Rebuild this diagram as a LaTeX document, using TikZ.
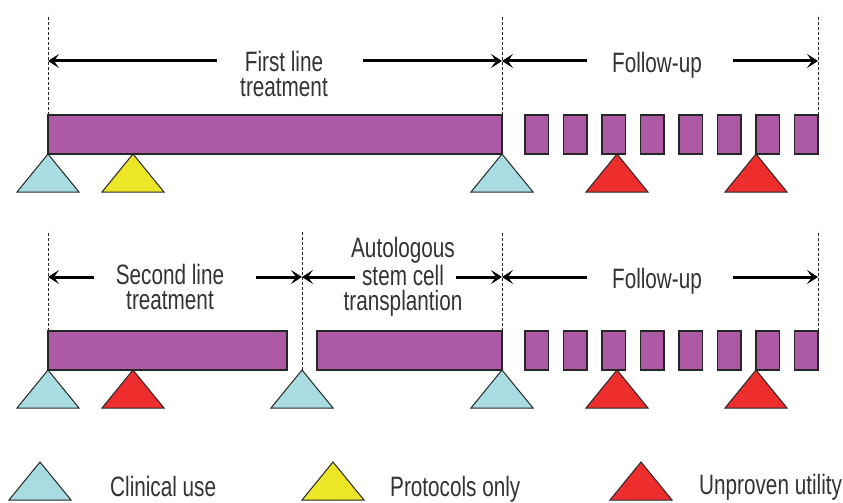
\documentclass[tikz,border=0pt]{standalone}
\usepackage{fontspec}
\newfontfamily\cond[FakeStretch=0.74]{Liberation Sans}
\usetikzlibrary{arrows.meta}
\definecolor{barpurple}{HTML}{AB5AA3}
\definecolor{cblue}{HTML}{A9DCE0}
\definecolor{cyellow}{HTML}{EDE626}
\definecolor{cred}{HTML}{EE2E2D}
\definecolor{txt}{HTML}{333333}
\tikzset{
  bar/.style={draw=black!85, line width=1.4pt, fill=barpurple, inner sep=0pt, outer sep=0pt, anchor=north west, minimum height=39pt},
  tri/.style={draw=black!85, line width=1pt, line join=miter},
  dashline/.style={line width=0.8pt, dash pattern=on 3pt off 2pt, black!85},
  arr/.style={line width=3pt, black, -{Stealth[length=11pt,width=14pt,inset=5pt]}},
  lbl/.style={font=\cond\fontsize{28}{25.5}\selectfont, text=txt, align=center, inner sep=0pt},
}
\newcommand\mytri[3]{\draw[tri, fill=#3] (#1,#2) -- ++(-31,38) -- ++(62,0) -- cycle;}
\begin{document}
\begin{tikzpicture}[x=1pt,y=-1pt]
\useasboundingbox[fill=white] (0,0) rectangle (843,503);

% ---------- Row 1 ----------
\node[bar, minimum width=454pt] (bar1) at (48,115) {};
\foreach \i in {0,...,7}{
  \node[bar, minimum width=23.5pt] (fa\i) at ({525+38.5*\i},115) {};
}
\draw[dashline] (bar1.north west) -- ++(0,-100);
\draw[dashline] (bar1.north east) -- ++(0,-100);
\draw[dashline] (fa7.north east) -- ++(0,-100);

\node[lbl] (t1) at (284,74) {First line\\treatment};
\node[lbl, anchor=base] (t2) at (657,73) {Follow-up};
\coordinate (a1l) at (48,61);
\coordinate (a1r) at (502,61);
\coordinate (a2r) at (818,61);
\draw[arr] (217,61) -- (a1l);
\draw[arr] (363,61) -- (a1r);
\draw[arr] (587,61) -- (a1r);
\draw[arr] (733,61) -- (a2r);

\mytri{48}{154}{cblue}
\mytri{133}{154}{cyellow}
\mytri{502}{154}{cblue}
\mytri{617}{154}{cred}
\mytri{756}{154}{cred}

% ---------- Row 2 ----------
\node[bar, minimum width=239pt] (bar2) at (48,331) {};
\node[bar, minimum width=185pt] (bar3) at (317,331) {};
\foreach \i in {0,...,7}{
  \node[bar, minimum width=23.5pt] (fb\i) at ({525+38.5*\i},331) {};
}
\coordinate (d2) at (302,370);
\draw[dashline] (bar2.north west) -- ++(0,-100);
\draw[dashline] (d2) -- ++(0,-139);
\draw[dashline] (bar3.north east) -- ++(0,-100);
\draw[dashline] (fb7.north east) -- ++(0,-100);

\node[lbl] (t3) at (170,287) {Second line\\treatment};
\node[lbl] (t4) at (403,277) {Autologous\\stem cell\\transplantion};
\node[lbl, anchor=base] (t5) at (657,288) {Follow-up};
\coordinate (b1l) at (48,277);
\coordinate (b1r) at (302,277);
\coordinate (b2r) at (502,277);
\coordinate (b3r) at (818,277);
\draw[arr] (94,277) -- (b1l);
\draw[arr] (256,277) -- (b1r);
\draw[arr] (355,277) -- (b1r);
\draw[arr] (456,277) -- (b2r);
\draw[arr] (587,277) -- (b2r);
\draw[arr] (733,277) -- (b3r);

\mytri{48}{370}{cblue}
\mytri{133}{370}{cred}
\mytri{302}{370}{cblue}
\mytri{502}{370}{cblue}
\mytri{617}{370}{cred}
\mytri{756}{370}{cred}

% ---------- Legend ----------
\mytri{40}{462}{cblue}
\mytri{333}{462}{cyellow}
\mytri{641}{462}{cred}
\node[lbl, anchor=base west] (l1) at (110,496) {Clinical use};
\node[lbl, anchor=base west] (l2) at (390,496) {Protocols only};
\node[lbl, anchor=base west] (l3) at (699,494) {Unproven utility};
\end{tikzpicture}
\end{document}
